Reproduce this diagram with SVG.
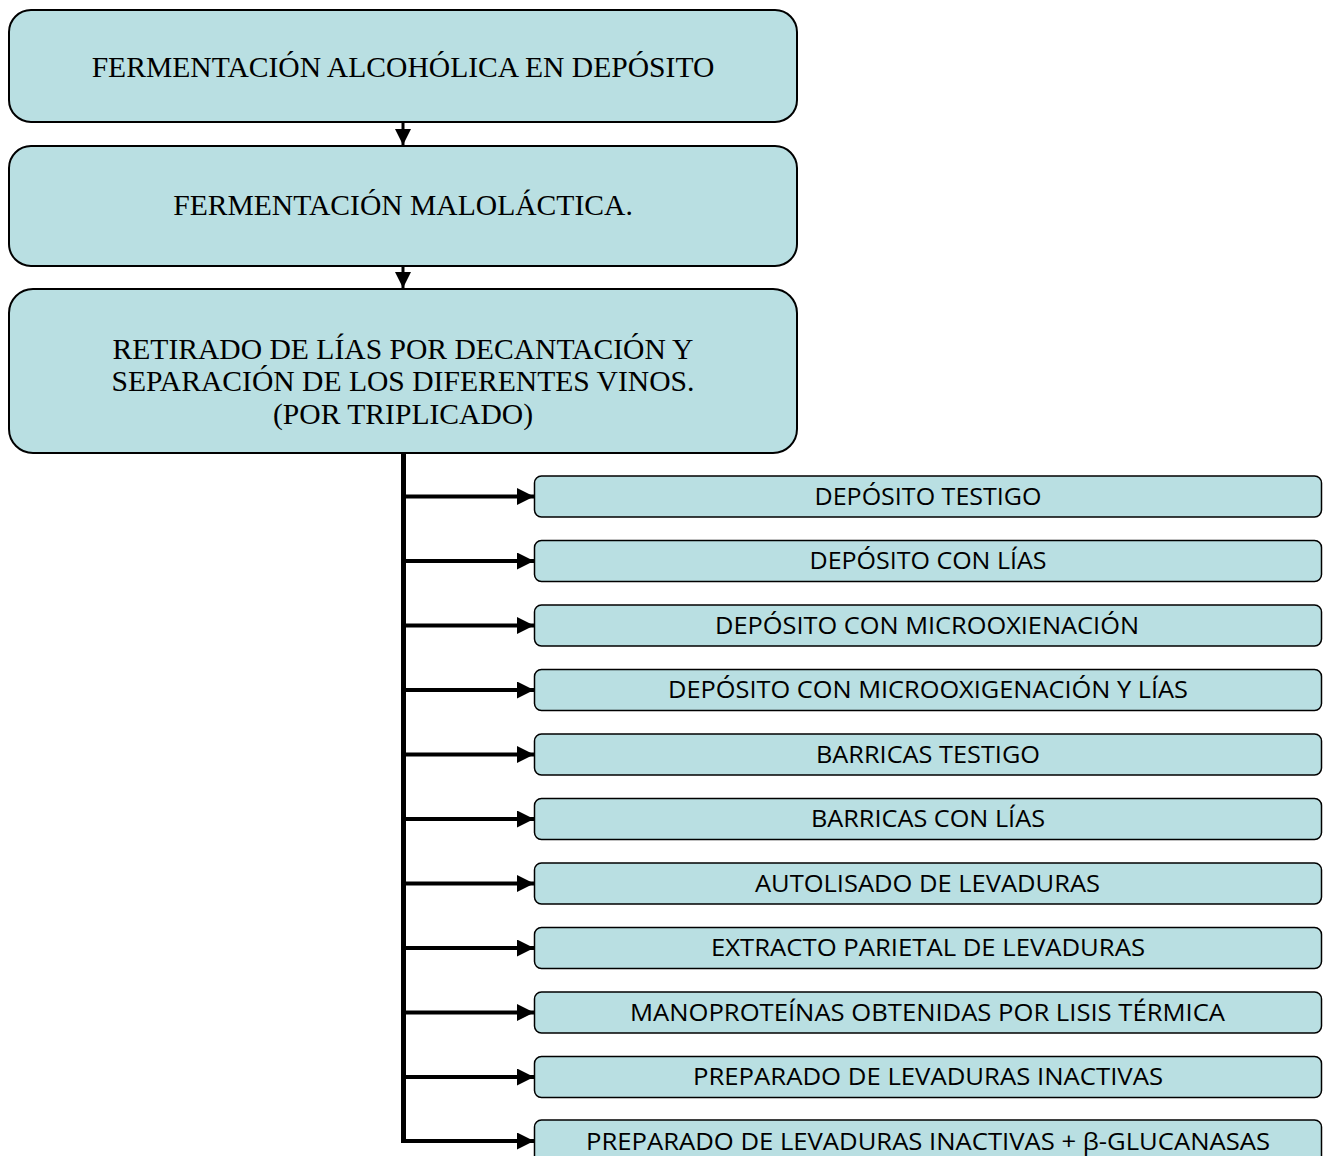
<svg xmlns="http://www.w3.org/2000/svg" width="1324" height="1156" viewBox="0 0 1324 1156">
<defs>
<style>
.big{fill:#b9dfe2;stroke:#000;stroke-width:2}
.sm{fill:#b9dfe2;stroke:#000;stroke-width:1.5}
.serif{font-family:"Liberation Serif","Times New Roman",serif;font-size:29.6px;fill:#000;text-anchor:middle}
.sans{font-family:"Open Sans","Liberation Sans",sans-serif;font-size:24px;fill:#000;text-anchor:middle}
.ln{stroke:#000;fill:none}
</style>
<marker id="ah" viewBox="0 0 10 10" refX="10" refY="5" markerWidth="17" markerHeight="17" markerUnits="userSpaceOnUse" orient="auto">
<path d="M0,0 L10,5 L0,10 z" fill="#000"/>
</marker>
<marker id="ahd" viewBox="0 0 10 10" refX="10" refY="5" markerWidth="16" markerHeight="16" markerUnits="userSpaceOnUse" orient="auto">
<path d="M0,0 L10,5 L0,10 z" fill="#000"/>
</marker>
</defs>
<rect width="1324" height="1156" fill="#fff"/>
<g id="connectors">
<line class="ln" x1="403" y1="123" x2="403" y2="145" stroke-width="3" marker-end="url(#ahd)"/>
<line class="ln" x1="403" y1="267" x2="403" y2="288" stroke-width="3" marker-end="url(#ahd)"/>
<path class="ln" d="M403.5,454 V1143" stroke-width="5"/>
<g stroke-width="4">
<line class="ln" x1="403" y1="496.5" x2="534" y2="496.5" marker-end="url(#ah)"/>
<line class="ln" x1="403" y1="561" x2="534" y2="561" marker-end="url(#ah)"/>
<line class="ln" x1="403" y1="625.5" x2="534" y2="625.5" marker-end="url(#ah)"/>
<line class="ln" x1="403" y1="690" x2="534" y2="690" marker-end="url(#ah)"/>
<line class="ln" x1="403" y1="754.5" x2="534" y2="754.5" marker-end="url(#ah)"/>
<line class="ln" x1="403" y1="819" x2="534" y2="819" marker-end="url(#ah)"/>
<line class="ln" x1="403" y1="883.5" x2="534" y2="883.5" marker-end="url(#ah)"/>
<line class="ln" x1="403" y1="948" x2="534" y2="948" marker-end="url(#ah)"/>
<line class="ln" x1="403" y1="1012.5" x2="534" y2="1012.5" marker-end="url(#ah)"/>
<line class="ln" x1="403" y1="1077" x2="534" y2="1077" marker-end="url(#ah)"/>
<line class="ln" x1="401" y1="1141" x2="534" y2="1141" marker-end="url(#ah)"/>
</g>
</g>
<g id="n1"><rect class="big" x="9" y="10" width="788" height="112" rx="22"/><text class="serif" x="403" y="77">FERMENTACIÓN ALCOHÓLICA EN DEPÓSITO</text></g>
<g id="n2"><rect class="big" x="9" y="146" width="788" height="120" rx="22"/><text class="serif" x="403" y="215">FERMENTACIÓN MALOLÁCTICA.</text></g>
<g id="n3"><rect class="big" x="9" y="289" width="788" height="164" rx="24"/>
<text class="serif" x="403" y="359">RETIRADO DE LÍAS POR DECANTACIÓN Y</text>
<text class="serif" x="403" y="391">SEPARACIÓN DE LOS DIFERENTES VINOS.</text>
<text class="serif" x="403" y="424">(POR TRIPLICADO)</text></g>
<g id="s1"><rect class="sm" x="534.5" y="476" width="787" height="41" rx="7"/><text class="sans" x="928" y="504.5" textLength="227" lengthAdjust="spacingAndGlyphs">DEPÓSITO TESTIGO</text></g>
<g id="s2"><rect class="sm" x="534.5" y="540.5" width="787" height="41" rx="7"/><text class="sans" x="928" y="569" textLength="237" lengthAdjust="spacingAndGlyphs">DEPÓSITO CON LÍAS</text></g>
<g id="s3"><rect class="sm" x="534.5" y="605" width="787" height="41" rx="7"/><text class="sans" x="927" y="633.5" textLength="424" lengthAdjust="spacingAndGlyphs">DEPÓSITO CON MICROOXIENACIÓN</text></g>
<g id="s4"><rect class="sm" x="534.5" y="669.5" width="787" height="41" rx="7"/><text class="sans" x="928" y="698" textLength="520" lengthAdjust="spacingAndGlyphs">DEPÓSITO CON MICROOXIGENACIÓN Y LÍAS</text></g>
<g id="s5"><rect class="sm" x="534.5" y="734" width="787" height="41" rx="7"/><text class="sans" x="928" y="762.5" textLength="224" lengthAdjust="spacingAndGlyphs">BARRICAS TESTIGO</text></g>
<g id="s6"><rect class="sm" x="534.5" y="798.5" width="787" height="41" rx="7"/><text class="sans" x="928" y="827" textLength="234" lengthAdjust="spacingAndGlyphs">BARRICAS CON LÍAS</text></g>
<g id="s7"><rect class="sm" x="534.5" y="863" width="787" height="41" rx="7"/><text class="sans" x="927.5" y="891.5" textLength="345" lengthAdjust="spacingAndGlyphs">AUTOLISADO DE LEVADURAS</text></g>
<g id="s8"><rect class="sm" x="534.5" y="927.5" width="787" height="41" rx="7"/><text class="sans" x="928" y="956" textLength="434" lengthAdjust="spacingAndGlyphs">EXTRACTO PARIETAL DE LEVADURAS</text></g>
<g id="s9"><rect class="sm" x="534.5" y="992" width="787" height="41" rx="7"/><text class="sans" x="927.5" y="1020.5" textLength="595" lengthAdjust="spacingAndGlyphs">MANOPROTEÍNAS OBTENIDAS POR LISIS TÉRMICA</text></g>
<g id="s10"><rect class="sm" x="534.5" y="1056.5" width="787" height="41" rx="7"/><text class="sans" x="928" y="1085" textLength="470" lengthAdjust="spacingAndGlyphs">PREPARADO DE LEVADURAS INACTIVAS</text></g>
<g id="s11"><rect class="sm" x="534.5" y="1120" width="787" height="50" rx="7"/><text class="sans" x="928" y="1149.5" textLength="684" lengthAdjust="spacingAndGlyphs">PREPARADO DE LEVADURAS INACTIVAS + β-GLUCANASAS</text></g>
</svg>
